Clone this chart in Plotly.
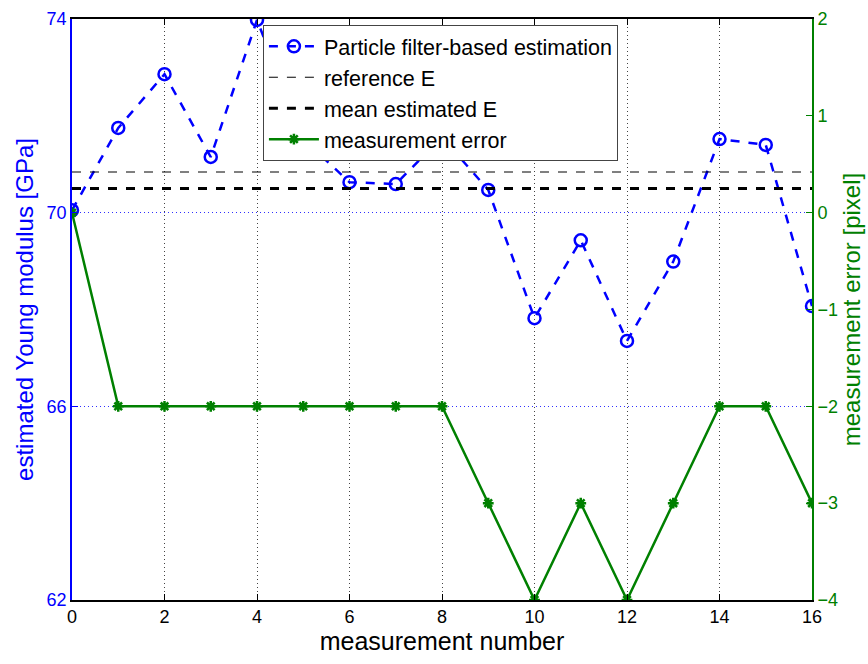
import plotly.graph_objects as go

# ---- data ----
measurement = list(range(17))
estimated_E = [70.05, 71.75, 72.86, 71.15, 73.98, 71.52, 70.63, 70.59, 71.56,
               70.47, 67.82, 69.43, 67.35, 68.99, 71.52, 71.40, 68.07]
meas_error = [0, -2, -2, -2, -2, -2, -2, -2, -2, -3, -4, -3, -4, -3, -2, -2, -3]
reference_E = 70.84
mean_E = 70.5
x_ticks = [0, 2, 4, 6, 8, 10, 12, 14, 16]
left_ticks = [62, 66, 70, 74]
right_ticks = [-4, -3, -2, -1, 0, 1, 2]

FONT = "Liberation Sans, Arial, sans-serif"
BLUE = "#0000ff"
GREEN = "#008000"

fig = go.Figure()

fig.add_trace(go.Scatter(
    x=measurement, y=estimated_E, mode="lines+markers",
    name="Particle filter-based estimation",
    line=dict(color=BLUE, width=2.5, dash="dash"),
    marker=dict(symbol="circle-open", size=12, color=BLUE, line=dict(width=2.5)),
    yaxis="y"))

fig.add_trace(go.Scatter(
    x=[measurement[0], measurement[-1]], y=[reference_E, reference_E], mode="lines",
    name="reference E", line=dict(color="black", width=1, dash="dash"), yaxis="y"))

fig.add_trace(go.Scatter(
    x=[measurement[0], measurement[-1]], y=[mean_E, mean_E], mode="lines",
    name="mean estimated E", line=dict(color="black", width=3, dash="dash"), yaxis="y"))

fig.add_trace(go.Scatter(
    x=measurement, y=meas_error, mode="lines+markers",
    name="measurement error",
    line=dict(color=GREEN, width=2.5),
    marker=dict(symbol="asterisk-open", size=9, color=GREEN, line=dict(width=2.5, color=GREEN)),
    yaxis="y2"))

fig.update_layout(
    width=868, height=664,
    margin=dict(l=72, r=56, t=19, b=64),
    paper_bgcolor="white", plot_bgcolor="white",
    font=dict(family=FONT, size=18, color="black"),
    showlegend=True,
    legend=dict(
        x=0.258, y=0.99, xanchor="left", yanchor="top",
        bgcolor="white", bordercolor="#444444", borderwidth=1,
        font=dict(family=FONT, size=21.5, color="black"),
        itemwidth=50, tracegroupgap=0,
    ),
    xaxis=dict(
        range=[0, 16], tickvals=x_ticks, ticks="inside", ticklen=6,
        tickcolor="black", showline=True, linecolor="black", linewidth=1.5,
        mirror="ticks", showgrid=True, gridcolor="#444444", griddash="1px,3px",
        gridwidth=1, zeroline=False, automargin=False,
        title=dict(text="measurement number", font=dict(size=25, family=FONT), standoff=6),
        tickfont=dict(size=18, family=FONT, color="black"),
    ),
    yaxis=dict(
        range=[62, 74], tickvals=left_ticks, ticks="inside", ticklen=6,
        tickcolor=BLUE, showline=True, linecolor=BLUE, linewidth=1.5,
        showgrid=True, gridcolor="#3030ff", griddash="1px,3px", gridwidth=1,
        zeroline=False, automargin=False,
        title=dict(text="estimated Young modulus [GPa]", font=dict(size=24, family=FONT, color=BLUE), standoff=6),
        tickfont=dict(size=18, family=FONT, color=BLUE),
    ),
    yaxis2=dict(
        range=[-4, 2], tickvals=right_ticks, ticks="inside", ticklen=6,
        tickcolor=GREEN, showline=True, linecolor=GREEN, linewidth=2,
        overlaying="y", side="right", showgrid=False, zeroline=False, automargin=False,
        title=dict(text="measurement error [pixel]", font=dict(size=24, family=FONT, color=GREEN), standoff=6),
        tickfont=dict(size=18, family=FONT, color=GREEN),
    ),
)

fig.write_html("out.html")
